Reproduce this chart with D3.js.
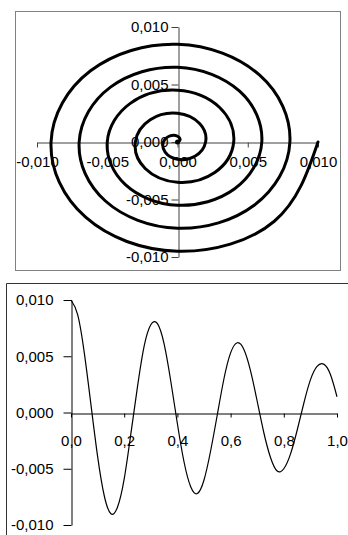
<!DOCTYPE html>
<html>
<head>
<meta charset="utf-8">
<script src="https://cdn.jsdelivr.net/npm/d3@7"></script>
<style>
  body { margin: 0; background: #fff; }
  svg { display: block; }
  text { font-family: "Liberation Sans", Arial, sans-serif; font-size: 15px; fill: #000; }
</style>
</head>
<body>
<svg id="chart" width="348" height="535"></svg>
<script>
// spiral (top chart), points read every 1/8 turn
const spiralX = [0, 0.00018, 0, -0.00053, -0.0010, -0.00088, 0, 0.00124,
  0.0020, 0.00159, 0, -0.00194, -0.0030, -0.0023, 0, 0.00265,
  0.0040, 0.0030, 0, -0.00336, -0.0050, -0.00371, 0, 0.00407,
  0.0060, 0.00442, 0, -0.00477, -0.0070, -0.00513, 0, 0.00548,
  0.0080, 0.00583, 0, -0.00619, -0.0090, -0.00654, 0, 0.00689, 0.0100]
const spiralY = [0, 0.00018, 0.0005, 0.00053, 0, -0.00088, -0.0015, -0.00124,
  0, 0.00159, 0.0025, 0.00194, 0, -0.0023, -0.0035, -0.00265,
  0, 0.0030, 0.0045, 0.00336, 0, -0.00371, -0.0055, -0.00407,
  0, 0.00442, 0.0065, 0.00477, 0, -0.00513, -0.0075, -0.00548,
  0, 0.00583, 0.0085, 0.00619, 0, -0.00654, -0.0095, -0.00689, 0]
const spiralTicks = [-0.010, -0.005, 0, 0.005, 0.010]

// damped wave (bottom chart)
const waveT = [0, 0.025, 0.05, 0.075, 0.1, 0.125, 0.15, 0.175, 0.2, 0.225,
  0.25, 0.275, 0.3, 0.325, 0.35, 0.375, 0.4, 0.425, 0.45, 0.475,
  0.5, 0.525, 0.55, 0.575, 0.6, 0.625, 0.65, 0.675, 0.7, 0.725,
  0.75, 0.775, 0.8, 0.825, 0.85, 0.875, 0.9, 0.925, 0.95, 0.975, 1.0]
const waveV = [0.0100, 0.0087, 0.0053, 0.0007, -0.0039, -0.0074, -0.0090, -0.0084, -0.0059, -0.0019,
  0.0023, 0.0059, 0.0078, 0.0079, 0.0061, 0.0028, -0.0010, -0.0044, -0.0066, -0.0072,
  -0.0060, -0.0034, -0.0002, 0.0030, 0.0053, 0.0062, 0.0056, 0.0037, 0.0010, -0.0018,
  -0.0040, -0.0052, -0.0050, -0.0037, -0.0016, 0.0008, 0.0029, 0.0041, 0.0043, 0.0034, 0.0014]
const waveXTicks = [0, 0.2, 0.4, 0.6, 0.8, 1.0]
const waveYTicks = [-0.010, -0.005, 0, 0.005, 0.010]

const svg = d3.select("#chart")
const loc = d3.formatLocale({decimal: ",", thousands: ".", grouping: [3], currency: ["", ""], minus: "-"})
const f3 = loc.format(".3f")
const f1 = loc.format(".1f")

// ---- top chart ----
svg.append("rect")
    .attr("x", 15.5).attr("y", 11.5)
    .attr("width", 325).attr("height", 259)
    .attr("fill", "none").attr("stroke", "#808080")

let sx = d3.scaleLinear().domain([-0.010, 0.010]).range([37, 318])
let sy = d3.scaleLinear().domain([-0.010, 0.010]).range([257, 27])

let topX = svg.append("g")
    .attr("transform", `translate(0, ${Math.round(sy(0)) + 0.5})`)
    .call(d3.axisBottom(sx).tickValues(spiralTicks).tickFormat(f3).tickSize(5).tickSizeOuter(0).tickPadding(9))
let topY = svg.append("g")
    .attr("transform", `translate(${Math.round(sx(0)) + 0.5}, 0)`)
    .call(d3.axisLeft(sy).tickValues(spiralTicks).tickFormat(f3).tickSize(7).tickSizeOuter(0).tickPadding(3))

// spiral
let spiral = d3.range(spiralX.length)
svg.append("path")
    .datum(spiral)
    .attr("fill", "none")
    .attr("stroke", "#000")
    .attr("stroke-width", 3)
    .attr("stroke-linecap", "round")
    .attr("d", d3.line()
        .x(function(i) { return sx(spiralX[i]) })
        .y(function(i) { return sy(spiralY[i]) })
        .curve(d3.curveNatural))
svg.append("circle")
    .attr("cx", sx(spiralX[0])).attr("cy", sy(spiralY[0]))
    .attr("r", 2.5).attr("fill", "#000")

// ---- bottom chart ----
svg.append("path")
    .attr("d", "M6.5,535 V283.5 H348")
    .attr("fill", "none").attr("stroke", "#333")

let wx = d3.scaleLinear().domain([0, 1]).range([71, 337])
let wy = d3.scaleLinear().domain([-0.010, 0.010]).range([525, 300])

let botX = svg.append("g")
    .attr("transform", `translate(0, ${Math.round(wy(0)) + 0.5})`)
    .call(d3.axisBottom(wx).tickValues(waveXTicks).tickFormat(f1).tickSize(4).tickSizeOuter(0).tickPadding(18))
let botY = svg.append("g")
    .attr("transform", `translate(${Math.round(wx(0)) + 0.5}, 0)`)
    .call(d3.axisLeft(wy).tickValues(waveYTicks).tickFormat(f3).tickSize(8).tickSizeOuter(0).tickPadding(10))

let wave = d3.range(waveT.length)
svg.append("path")
    .datum(wave)
    .attr("fill", "none")
    .attr("stroke", "#000")
    .attr("stroke-width", 1.2)
    .attr("d", d3.line()
        .x(function(i) { return wx(waveT[i]) })
        .y(function(i) { return wy(waveV[i]) })
        .curve(d3.curveNatural))

// axis styling: plain lines, text like the picture
svg.selectAll(".tick text")
    .attr("font-family", null).attr("font-size", null).attr("fill", "#000")
topX.selectAll("path, line").attr("stroke", "#404040")
topY.selectAll("path, line").attr("stroke", "#404040")
botX.selectAll("path, line").attr("stroke", "#000")
botY.selectAll("path, line").attr("stroke", "#000")
</script>
</body>
</html>
